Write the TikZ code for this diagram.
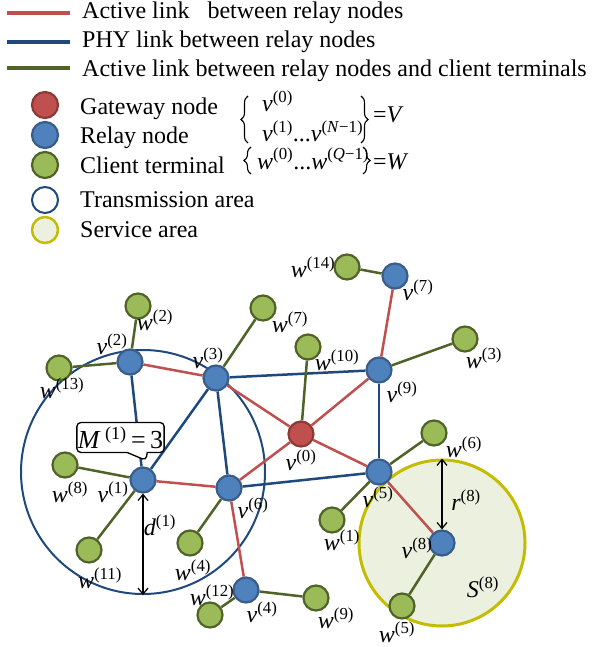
\documentclass[tikz,border=0pt]{standalone}
\usepackage{fontspec}
\setmainfont{Liberation Serif}
\usetikzlibrary{positioning, arrows.meta, shapes.callouts, backgrounds, decorations.pathreplacing}

\definecolor{gwred}{HTML}{C0504D}
\definecolor{gwredD}{HTML}{8C3A38}
\definecolor{rlblue}{HTML}{4F81BD}
\definecolor{rlblueD}{HTML}{385D8A}
\definecolor{phyblue}{HTML}{1F497D}
\definecolor{clgreen}{HTML}{9BBB59}
\definecolor{clgreenD}{HTML}{4F6228}
\definecolor{svfill}{HTML}{EBF1DE}
\definecolor{svedge}{HTML}{C3BC00}

\newcommand{\lbl}[2]{\textit{#1}\textsuperscript{(#2)}}

\begin{document}
\begin{tikzpicture}[x=1pt, y=-1pt,
    > = {Straight Barb[length=6pt, width=10pt]},
    dot/.style={circle, minimum size=25pt, inner sep=0pt, line width=2.2pt},
    gateway/.style={dot, fill=gwred, draw=gwredD},
    relay/.style={dot, fill=rlblue, draw=rlblueD},
    client/.style={dot, fill=clgreen, draw=clgreenD},
    redlink/.style={gwred, line width=2.5pt},
    blulink/.style={phyblue, line width=2.5pt},
    grnlink/.style={clgreenD, line width=2.5pt},
    setbrace/.style={decorate, decoration={brace, amplitude=7pt}, line width=1.1pt},
    lab/.style={font=\fontsize{24}{26}\selectfont, inner sep=0pt},
    legtxt/.style={font=\fontsize{24}{26}\selectfont, anchor=base west, inner sep=0pt}
]
    \useasboundingbox (0,0) rectangle (608,647);

    % legend: links
    \draw[redlink, line width=4.5pt] (7,13) -- (70,13);
    \draw[blulink, line width=4.5pt] (7,42) -- (70,42);
    \draw[grnlink, line width=4.5pt] (7,68) -- (70,68);
    \node[legtxt] (t1) at (82,19) {Active link~~~between relay nodes};
    \node[legtxt] (t2) at (82,48) {PHY link between relay nodes};
    \node[legtxt] (t3) at (82,77) {Active link between relay nodes and client terminals};

    % legend: nodes and areas
    \node[gateway, minimum size=26pt] (lg1) at (45,105) {};
    \node[relay, minimum size=26pt] (lg2) at (45,135) {};
    \node[client, minimum size=26pt] (lg3) at (45,165) {};
    \node[dot, minimum size=26pt, draw=phyblue, line width=2pt, fill=white] (lg4) at (45,200) {};
    \node[dot, minimum size=26pt, draw=svedge, line width=2.5pt, fill=svfill] (lg5) at (45,230) {};
    \node[legtxt] (t4) at (80,115) {Gateway node};
    \node[legtxt] (t5) at (80,144) {Relay node};
    \node[legtxt] (t6) at (80,173) {Client terminal};
    \node[legtxt] (t7) at (80,207) {Transmission area};
    \node[legtxt] (t8) at (80,237) {Service area};

    % sets V and W
    \node[legtxt] (sv0) at (262,112) {\lbl{v}{0}};
    \node[legtxt] (sv1) at (262,142) {\lbl{v}{1}...\lbl{v}{\textit{N}−1}};
    \node[legtxt] (eqV) at (373,123) {=\textit{V}};
    \node[legtxt] (sw) at (257,169) {\lbl{w}{0}...\lbl{w}{\textit{Q}−1}};
    \node[legtxt] (eqW) at (373,169) {=\textit{W}};
    \draw[setbrace] (248,143) -- (248,96);
    \draw[setbrace] (361,96) -- (361,143);
    \draw[setbrace] (251,174) -- (251,147);
    \draw[setbrace] (363,147) -- (363,174);

    % areas
    \begin{scope}[on background layer]
        \node[circle, minimum size=244pt, inner sep=0pt, draw=phyblue, line width=2pt] (tx) at (143,472) {};
        \node[circle, minimum size=166pt, inner sep=0pt, draw=svedge, fill=svfill, line width=3pt] (sa) at (442,543) {};
    \end{scope}

    % gateway and relay nodes
    \node[gateway] (v0) at (301,434) {};
    \node[relay] (v1) at (143,480) {};
    \node[relay] (v2) at (130,362) {};
    \node[relay] (v3) at (216,378) {};
    \node[relay] (v4) at (246,590) {};
    \node[relay] (v5) at (379,472) {};
    \node[relay] (v6) at (229,488) {};
    \node[relay] (v7) at (395,276) {};
    \node[relay] (v8) at (442,543) {};
    \node[relay] (v9) at (379,370) {};

    % client terminals
    \node[client] (w1) at (332,520) {};
    \node[client] (w2) at (138,306) {};
    \node[client] (w3) at (465,339) {};
    \node[client] (w4) at (190,543) {};
    \node[client] (w5) at (402,606) {};
    \node[client] (w6) at (434,433) {};
    \node[client] (w7) at (263,308) {};
    \node[client] (w8) at (65,465) {};
    \node[client] (w9) at (316,598) {};
    \node[client] (w10) at (308,347) {};
    \node[client] (w11) at (89,550) {};
    \node[client] (w12) at (210,615) {};
    \node[client] (w13) at (59,368) {};
    \node[client] (w14) at (347,267) {};

    % links
    \begin{scope}[on background layer]
        \draw[blulink] (v3) -- (v9);
        \draw[blulink] (v3) -- (v1);
        \draw[blulink] (v3) -- (v6);
        \draw[blulink] (v2) -- (v1);
        \draw[blulink] (v6) -- (v5);
        \draw[blulink] (v9) -- (v5);
        \foreach \a/\b in {v2/v3, v3/v0, v0/v9, v9/v7, v0/v5, v0/v6, v1/v6, v6/v4, v5/v8}
            \draw[redlink] (\a) -- (\b);
        \foreach \a/\b in {v2/w2, v2/w13, v3/w7, v0/w10, v9/w3, v7/w14, v5/w6, v5/w1,
                           v1/w8, v1/w11, v6/w4, v4/w12, v4/w9, v8/w5}
            \draw[grnlink] (\a) -- (\b);
    \end{scope}

    % distances
    \draw[<->, line width=1.2pt] (v1.south) -- (tx.south);
    \draw[<->, line width=1.2pt] (sa.north) -- (v8.north);

    % callout
    \node[rectangle callout, draw, fill=white, line width=1.3pt, rounded corners=4pt,
          minimum width=87pt, minimum height=30pt, inner sep=1pt,
          callout absolute pointer={([xshift=3pt, yshift=6pt]v1.north)},
          callout pointer width=20pt, font=\fontsize{26}{28}\selectfont] (m1) at (120.5,437.5)
        {\textit{M}\,\textsuperscript{(1)}\,=\,3};

    % labels
    \node[lab] (lv0) at (301,460) {\lbl{v}{0}};
    \node[lab] (lv1) at (113,492) {\lbl{v}{1}};
    \node[lab] (lv2) at (112,344) {\lbl{v}{2}};
    \node[lab] (lv3) at (208,358) {\lbl{v}{3}};
    \node[lab] (lv4) at (262,612) {\lbl{v}{4}};
    \node[lab] (lv5) at (378,497) {\lbl{v}{5}};
    \node[lab] (lv6) at (253,508) {\lbl{v}{6}};
    \node[lab] (lv7) at (418,290) {\lbl{v}{7}};
    \node[lab] (lv8) at (417,548) {\lbl{v}{8}};
    \node[lab] (lv9) at (402,392) {\lbl{v}{9}};
    \node[lab] (lw1) at (342,540) {\lbl{w}{1}};
    \node[lab] (lw2) at (155,320) {\lbl{w}{2}};
    \node[lab] (lw3) at (484,358) {\lbl{w}{3}};
    \node[lab] (lw4) at (193,570) {\lbl{w}{4}};
    \node[lab] (lw5) at (397,632) {\lbl{w}{5}};
    \node[lab] (lw6) at (464,447) {\lbl{w}{6}};
    \node[lab] (lw7) at (290,322) {\lbl{w}{7}};
    \node[lab] (lw8) at (70,492) {\lbl{w}{8}};
    \node[lab] (lw9) at (336,618) {\lbl{w}{9}};
    \node[lab] (lw10) at (337,360) {\lbl{w}{10}};
    \node[lab] (lw11) at (100,578) {\lbl{w}{11}};
    \node[lab] (lw12) at (212,595) {\lbl{w}{12}};
    \node[lab] (lw13) at (62,388) {\lbl{w}{13}};
    \node[lab] (lw14) at (313,267) {\lbl{w}{14}};
    \node[lab] (ld1) at (160,525) {\lbl{d}{1}};
    \node[lab] (lr8) at (466,500) {\lbl{r}{8}};
    \node[lab] (lS8) at (483,587) {\lbl{S}{8}};
\end{tikzpicture}
\end{document}
